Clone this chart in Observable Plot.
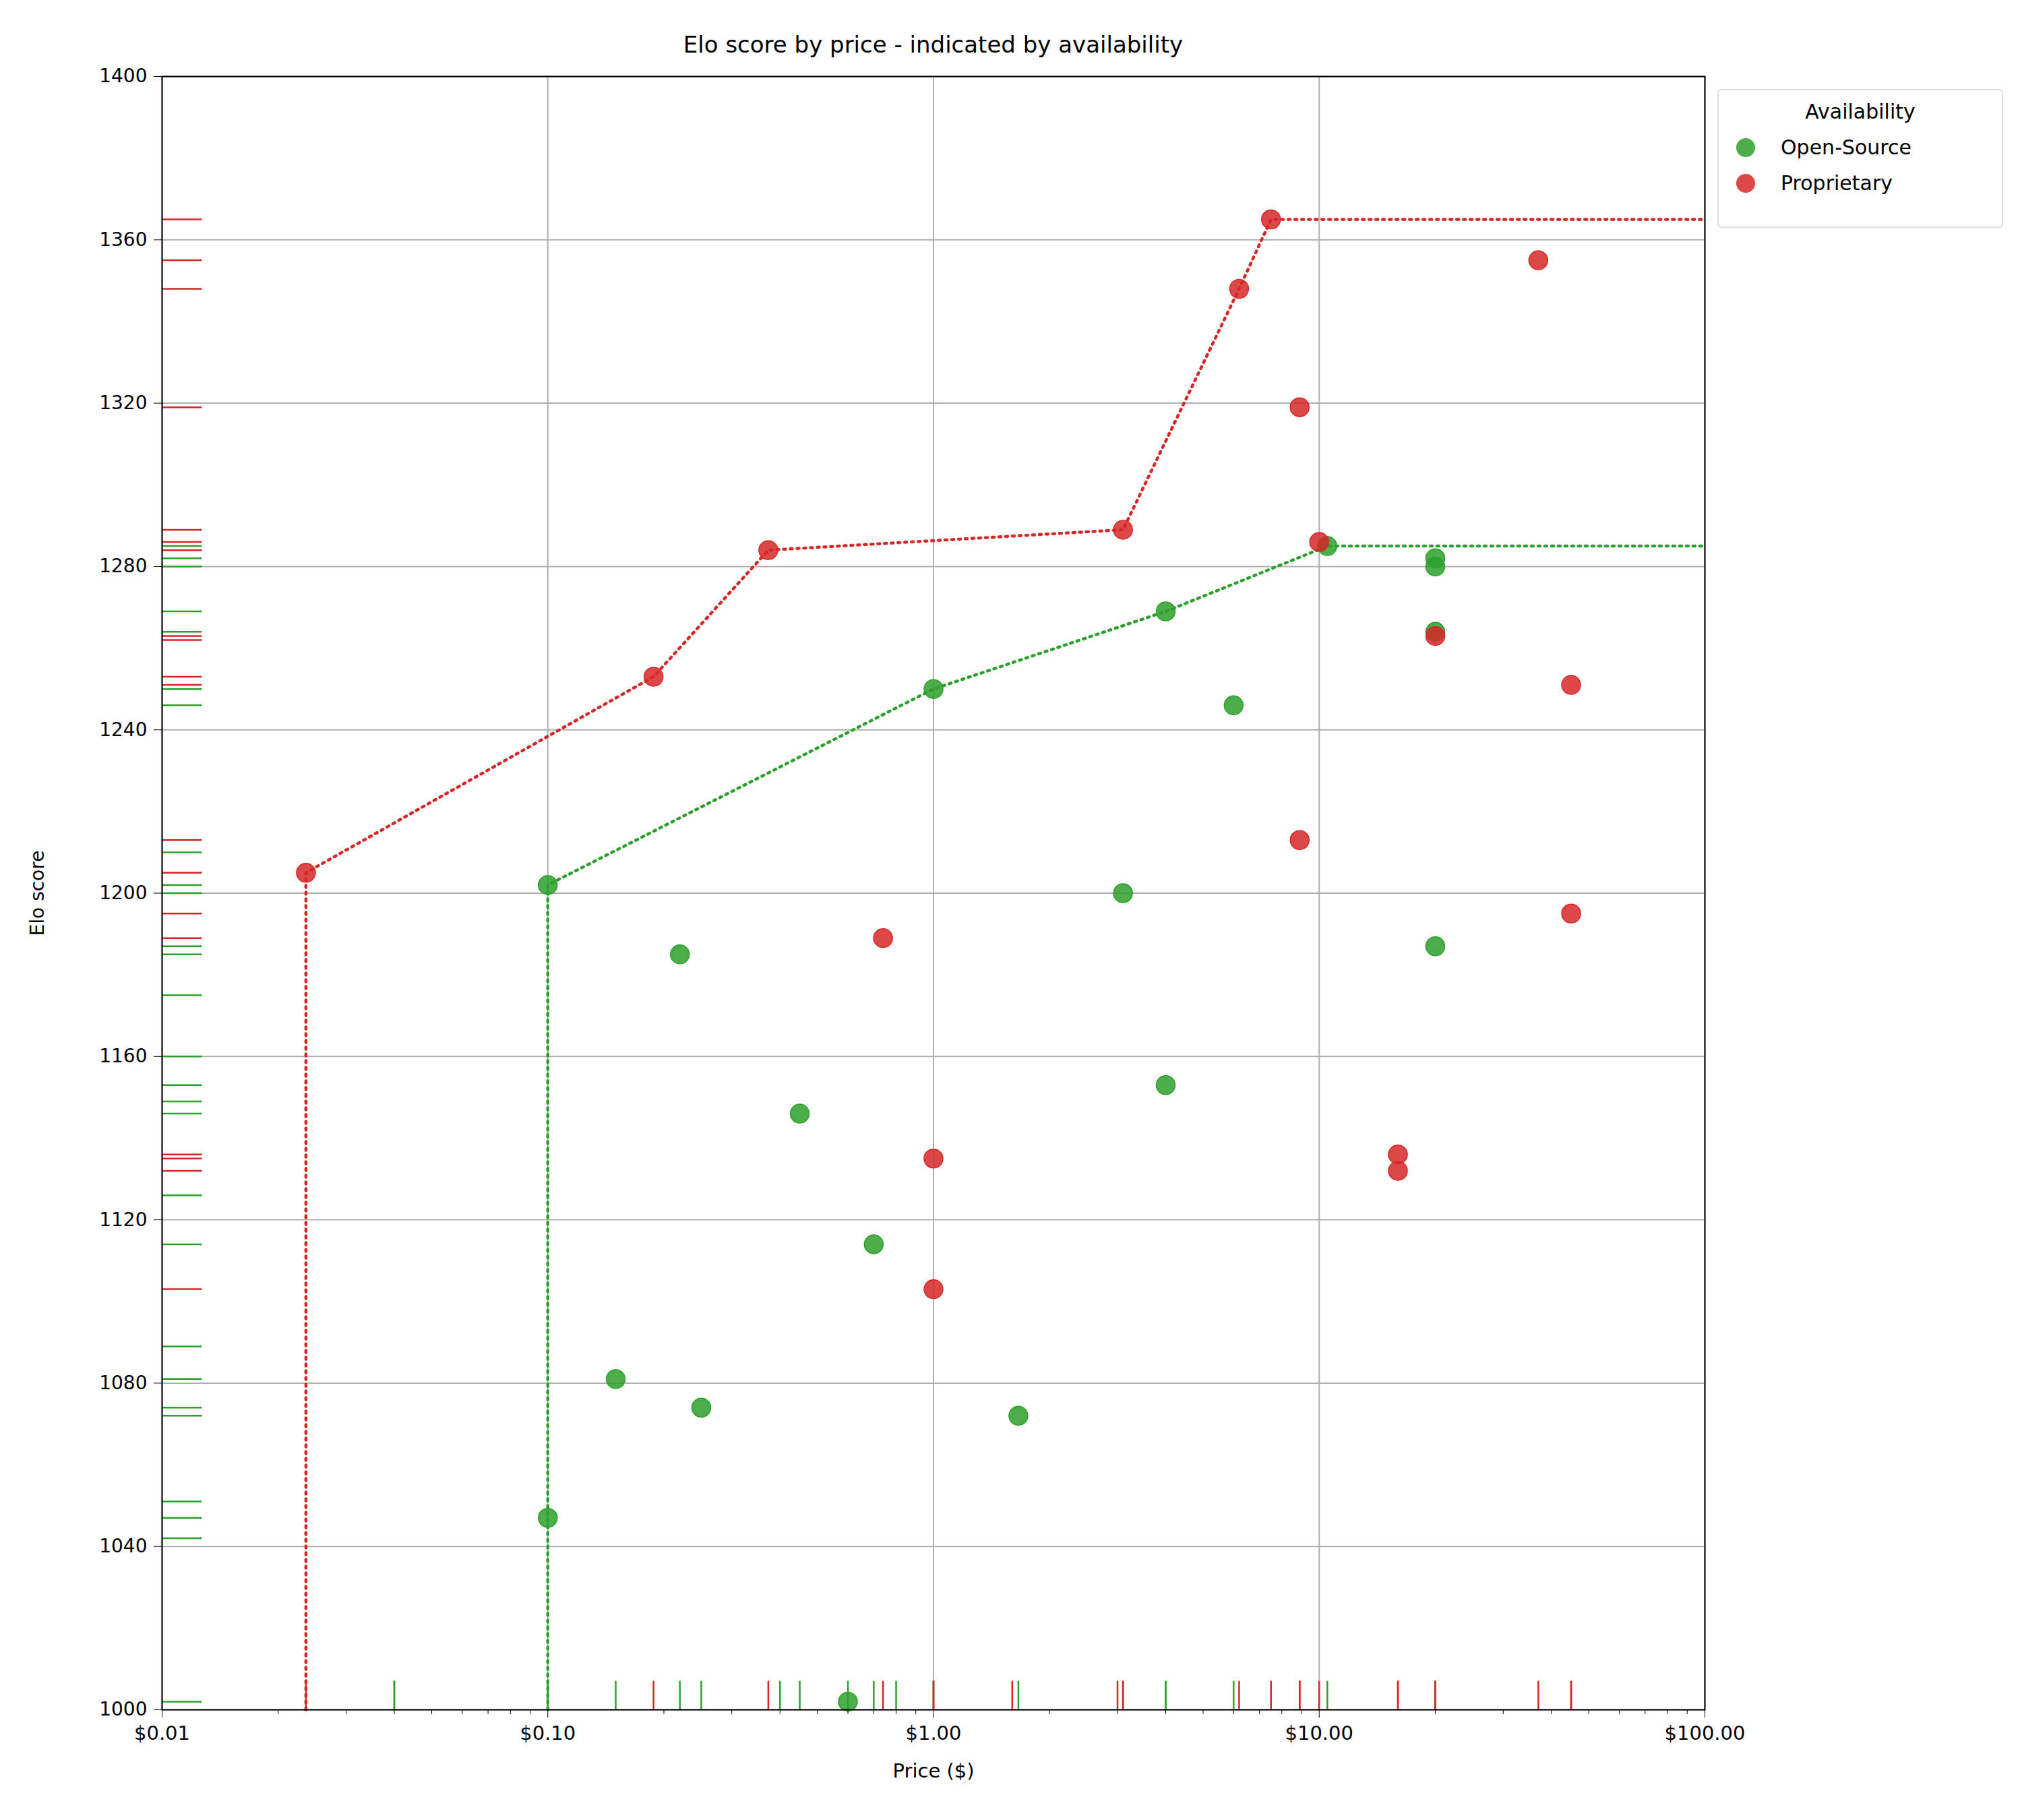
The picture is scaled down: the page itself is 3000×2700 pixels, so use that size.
<!DOCTYPE html>
<html><head><meta charset="utf-8">
<script src="https://cdn.jsdelivr.net/npm/d3@7"></script>
<script src="https://cdn.jsdelivr.net/npm/@observablehq/plot@0.6"></script>
<style>
body{margin:0;background:#fff;font-family:"DejaVu Sans",sans-serif;}
#wrap{position:relative;width:3000px;height:2700px;}
#title{position:absolute;left:240px;width:2289px;top:46px;text-align:center;font-size:34px;}
#legend{position:absolute;left:2548px;top:132px;width:424px;height:206px;border:2px solid #ddd;border-radius:6px;font-size:30px;box-sizing:border-box;}
#legend .t{text-align:center;margin-top:14px;}
#legend .r{display:flex;align-items:center;margin-top:18px;margin-left:26px;}
#legend .d{width:28px;height:28px;border-radius:50%;margin-right:38px;opacity:.85}
</style></head><body>
<div id="wrap"><div id="title">Elo score by price - indicated by availability</div>
<div id="legend"><div class="t">Availability</div>
<div class="r"><div class="d" style="background:#2ca02c"></div>Open-Source</div>
<div class="r"><div class="d" style="background:#d62728"></div>Proprietary</div></div>
<div id="chart"></div></div>
<script>
const openPrice=[0.10,0.10,0.15,0.22,0.25,0.45,0.60,0.70,1.0,1.66,3.1,4.0,4.0,6.0,10.5,20,20,20,20];
const openElo=[1202,1047,1081,1185,1074,1146,1002,1114,1250,1072,1200,1269,1153,1246,1285,1282,1280,1264,1187];
const propPrice=[0.0236,0.188,0.373,0.74,1.0,1.0,3.1,6.2,7.5,8.9,8.9,10,16,16,20,37,45,45];
const propElo=[1205,1253,1284,1189,1135,1103,1289,1348,1365,1319,1213,1286,1136,1132,1263,1355,1251,1195];
const openRugPriceExtra=[0.04,0.04,0.40,0.80];
const openRugEloExtra=[1210,1175,1160,1149,1126,1089,1051,1042];
const propRugPriceExtra=[1.6,3.0];
const propRugEloExtra=[1262];
const propFrontierPrice=[0.0236,0.0236,0.188,0.373,3.1,6.2,7.5,100];
const propFrontierElo=[1000,1205,1253,1284,1289,1348,1365,1365];
const openFrontierPrice=[0.10,0.10,1.0,4.0,10.5,100];
const openFrontierElo=[1000,1202,1250,1269,1285,1285];
const xTicks=[0.01,0.1,1,10,100];
const yTicks=d3.range(1000,1401,40);
const minor=[];for(const d of [0.01,0.1,1,10])for(let k=2;k<10;k++)minor.push(d*k);

const G="#2ca02c",R="#d62728";
const pts=(xs,ys)=>xs.map((x,i)=>({x,y:ys[i]}));
const openPts=pts(openPrice,openElo),propPts=pts(propPrice,propElo);
const openRX=[...openPrice,...openRugPriceExtra],propRX=[...propPrice,...propRugPriceExtra];
const openRY=[...openElo,...openRugEloExtra],propRY=[...propElo,...propRugEloExtra];
const chart=Plot.plot({
 width:3000,height:2700,marginLeft:240,marginRight:471,marginTop:113,marginBottom:164,
 style:{fontFamily:"DejaVu Sans",fontSize:"28px",background:"#fff"},
 x:{type:"log",domain:[0.01,100],label:null},
 y:{domain:[1000,1400],label:null},
 marks:[
  Plot.gridX(xTicks,{stroke:"#b0b0b0",strokeOpacity:1,strokeWidth:2}),
  Plot.gridY(yTicks,{stroke:"#b0b0b0",strokeOpacity:1,strokeWidth:2}),
  Plot.ruleX(openRX,{x:d=>d,y1:1000,y2:1007,stroke:G,strokeWidth:2.5}),
  Plot.ruleX(propRX,{x:d=>d,y1:1000,y2:1007,stroke:R,strokeWidth:2.5}),
  Plot.ruleY(openRY,{y:d=>d,x1:0.01,x2:0.0127,stroke:G,strokeWidth:2.5}),
  Plot.ruleY(propRY,{y:d=>d,x1:0.01,x2:0.0127,stroke:R,strokeWidth:2.5}),
  Plot.line(pts(openFrontierPrice,openFrontierElo),{x:"x",y:"y",stroke:G,strokeWidth:4.5,strokeDasharray:"3,7"}),
  Plot.line(pts(propFrontierPrice,propFrontierElo),{x:"x",y:"y",stroke:R,strokeWidth:4.5,strokeDasharray:"3,7"}),
  Plot.dot(openPts,{x:"x",y:"y",r:14,fill:G,fillOpacity:0.85,stroke:G,strokeWidth:1.5}),
  Plot.dot(propPts,{x:"x",y:"y",r:14,fill:R,fillOpacity:0.85,stroke:R,strokeWidth:1.5}),
  Plot.frame({stroke:"#000",strokeWidth:2}),
  Plot.axisX(minor,{tickSize:7,tickFormat:()=>"",label:null,stroke:"#000"}),
  Plot.axisX(xTicks,{tickSize:12,tickPadding:12,tickFormat:d=>"$"+d.toFixed(2),label:"Price ($)",labelArrow:"none",labelAnchor:"center",labelOffset:100,fontSize:29,stroke:"#000"}),
  Plot.axisY(yTicks,{tickSize:12,tickPadding:10,tickFormat:d=>String(d),label:"Elo score",labelArrow:"none",labelAnchor:"center",labelOffset:195,fontSize:28,stroke:"#000"})
 ]});
document.getElementById("chart").appendChild(chart);
</script></body></html>
